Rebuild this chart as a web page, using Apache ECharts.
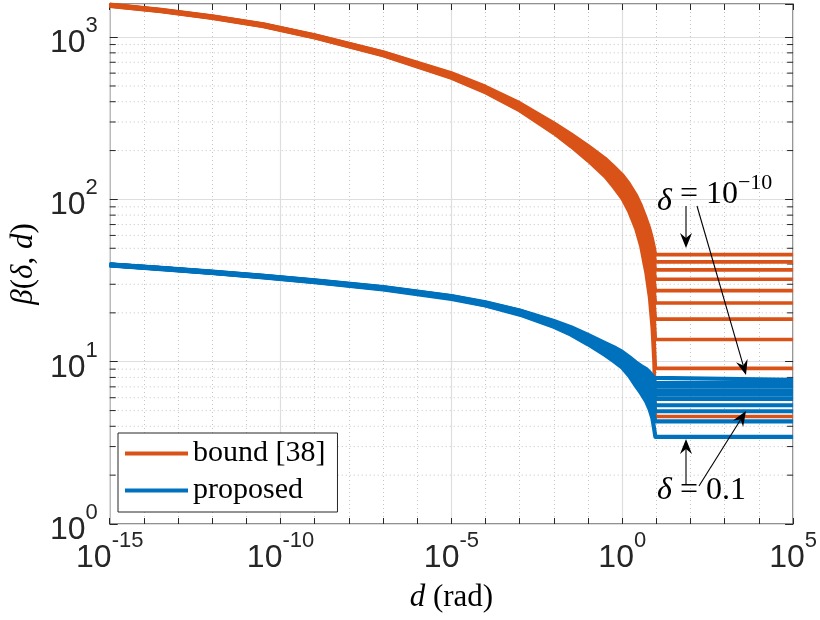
<!DOCTYPE html>
<html>
<head>
<meta charset="utf-8">
<script src="https://cdn.jsdelivr.net/npm/echarts@6/dist/echarts.min.js"></script>
<style>
html, body { margin: 0; padding: 0; background: #fff; }
#chart { width: 820px; height: 620px; }
</style>
</head>
<body>
<div id="chart"></div>
<script>
const dValues = [1e-15, 3.16e-14, 1e-12, 3.16e-11, 1e-9, 1e-7, 1e-5, 1e-4, 1e-3, 1e-2, 0.0316, 0.1,
    0.316, 0.562, 1, 1.585, 2.512, 3.548, 5.012, 6.310, 7.586, 8.511, 9.333, 1e5];

// bound [38], one curve per delta = 1e-10 ... 1e-1
const boundDm10 = [1594, 1480, 1348, 1205, 1032, 811, 601, 496, 393, 296, 253, 214, 179, 160, 142, 125, 107, 92, 76, 66, 57, 51, 45.7, 45.7];
const boundDm9  = [1589, 1475, 1343, 1200, 1027, 806, 596, 491, 388, 291, 248, 209, 174, 155, 137, 120, 102, 87, 71, 61, 52, 46, 41.2, 41.2];
const boundDm8  = [1585, 1471, 1339, 1196, 1023, 802, 592, 487, 384, 287, 244, 205, 170, 151, 133, 116, 98, 83, 67, 57, 48, 42, 36.8, 36.8];
const boundDm7  = [1580, 1466, 1334, 1191, 1018, 797, 587, 482, 379, 282, 239, 200, 165, 146, 128, 111, 93, 78, 62, 52, 43, 37, 32.2, 32.2];
const boundDm6  = [1575, 1461, 1329, 1186, 1013, 792, 582, 477, 374, 277, 234, 195, 160, 141, 123, 106, 88, 73, 57, 47, 38, 32, 27.4, 27.4];
const boundDm5  = [1571, 1457, 1325, 1182, 1009, 788, 578, 473, 370, 273, 230, 191, 156, 137, 119, 102, 84, 69, 53, 43, 34, 28, 23.0, 23.0];
const boundDm4  = [1566, 1452, 1320, 1177, 1004, 783, 573, 468, 365, 268, 225, 186, 151, 132, 114, 97, 79, 64, 48, 38, 29, 23, 18.3, 18.3];
const boundDm3  = [1562, 1448, 1316, 1173, 1000, 779, 569, 464, 361, 264, 221, 182, 147, 128, 110, 93, 75, 60, 44, 34, 25, 19, 13.7, 13.7];
const boundDm2  = [1557, 1443, 1311, 1168, 995, 774, 564, 459, 356, 259, 216, 177, 142, 123, 105, 88, 70, 55, 39, 29, 20, 14, 9.1, 9.1];
const boundDm1  = [1553, 1439, 1307, 1164, 991, 770, 560, 455, 352, 255, 212, 173, 138, 119, 101, 84, 66, 51, 35, 25, 16, 10, 4.6, 4.6];

// proposed, one curve per delta = 1e-10 ... 1e-1
const propDm10 = [39.8, 37.9, 35.9, 33.8, 31.7, 28.8, 25.4, 23.2, 20.7, 17.8, 16.3, 14.6, 13.0, 12.3, 11.5, 10.7, 9.9, 9.4, 9.0, 8.6, 8.2, 7.96, 7.74, 7.74];
const propDm9  = [39.7, 37.8, 35.8, 33.8, 31.6, 28.7, 25.3, 23.1, 20.6, 17.6, 16.1, 14.4, 12.8, 12.1, 11.3, 10.5, 9.6, 9.1, 8.7, 8.3, 7.9, 7.60, 7.37, 7.37];
const propDm8  = [39.7, 37.7, 35.7, 33.7, 31.5, 28.6, 25.2, 23.0, 20.5, 17.5, 15.9, 14.2, 12.6, 11.8, 11.1, 10.2, 9.3, 8.8, 8.4, 7.9, 7.6, 7.25, 7.01, 7.01];
const propDm7  = [39.6, 37.7, 35.6, 33.6, 31.5, 28.5, 25.1, 22.9, 20.3, 17.3, 15.8, 14.0, 12.4, 11.6, 10.8, 9.9, 9.0, 8.5, 8.1, 7.6, 7.2, 6.88, 6.62, 6.62];
const propDm6  = [39.6, 37.6, 35.6, 33.5, 31.4, 28.4, 25.0, 22.8, 20.2, 17.2, 15.6, 13.9, 12.2, 11.4, 10.6, 9.7, 8.8, 8.3, 7.8, 7.3, 6.9, 6.53, 6.26, 6.26];
const propDm5  = [39.5, 37.6, 35.5, 33.5, 31.3, 28.4, 24.9, 22.7, 20.1, 17.1, 15.5, 13.7, 12.0, 11.2, 10.4, 9.5, 8.5, 8.0, 7.5, 7.0, 6.6, 6.20, 5.91, 5.91];
const propDm4  = [39.4, 37.5, 35.4, 33.4, 31.2, 28.3, 24.8, 22.6, 20.0, 16.9, 15.3, 13.5, 11.8, 11.0, 10.1, 9.2, 8.2, 7.6, 7.1, 6.6, 6.1, 5.71, 5.39, 5.39];
const propDm3  = [39.4, 37.4, 35.4, 33.3, 31.1, 28.2, 24.7, 22.5, 19.8, 16.8, 15.2, 13.3, 11.6, 10.8, 9.9, 8.9, 7.9, 7.3, 6.8, 6.2, 5.7, 5.29, 4.95, 4.95];
const propDm2  = [39.3, 37.3, 35.3, 33.2, 31.0, 28.1, 24.6, 22.3, 19.7, 16.6, 15.0, 13.1, 11.3, 10.5, 9.6, 8.6, 7.5, 6.9, 6.3, 5.7, 5.1, 4.68, 4.29, 4.29];
const propDm1  = [39.2, 37.2, 35.2, 33.1, 30.9, 27.9, 24.4, 22.2, 19.5, 16.4, 14.7, 12.8, 11.0, 10.1, 9.2, 8.2, 7.1, 6.4, 5.7, 5.1, 4.5, 3.91, 3.44, 3.44];

// minor y grid values (2..9 per decade)
const minorY = [2, 3, 4, 5, 6, 7, 8, 9, 20, 30, 40, 50, 60, 70, 80, 90, 200, 300, 400, 500, 600, 700, 800, 900];

const boundCurves = [boundDm10, boundDm9, boundDm8, boundDm7, boundDm6, boundDm5, boundDm4, boundDm3, boundDm2, boundDm1];
const propCurves = [propDm10, propDm9, propDm8, propDm7, propDm6, propDm5, propDm4, propDm3, propDm2, propDm1];

const ORANGE = '#D95319';
const BLUE = '#0072BD';
const AXIS = '#262626';
const SANS = 'Liberation Sans';
const SERIF = 'Liberation Serif';

const chart = echarts.init(document.getElementById('chart'));

function powLabel(v) {
    const l = Math.log10(v);
    const e = Math.round(l);
    if (Math.abs(l - e) > 1e-6) return '';
    return e;
}
const tickRich = {
    b: {fontSize: 32, fontFamily: SANS, color: AXIS, lineHeight: 30, verticalAlign: 'bottom'},
    s: {fontSize: 22, fontFamily: SANS, color: AXIS, lineHeight: 44, verticalAlign: 'top'}
};

function curveSeries(vals, name, color, width) {
    return {
        type: 'line',
        name: name,
        data: vals.map((v, i) => [dValues[i], v]),
        showSymbol: false,
        symbol: 'none',
        lineStyle: {color: color, width: width, join: 'round'},
        itemStyle: {color: color},
        emphasis: {disabled: true},
        animation: false,
        z: 3
    };
}

const series = [];
// minor grid lines and ticks on the log y axis
series.push({
    type: 'custom',
    silent: true,
    z: 1,
    data: minorY.map(v => [1, v]),
    renderItem: function (params, api) {
        const v = api.value(1);
        const p0 = api.coord([1e-15, v]);
        const p1 = api.coord([1e5, v]);
        return {
            type: 'group',
            children: [
                {type: 'line', shape: {x1: p0[0], y1: p0[1], x2: p1[0], y2: p1[1]},
                    style: {stroke: '#c4c4c4', lineWidth: 1, lineDash: [1, 3]}},
                {type: 'line', shape: {x1: p0[0], y1: p0[1], x2: p0[0] + 6, y2: p0[1]},
                    style: {stroke: AXIS, lineWidth: 1}},
                {type: 'line', shape: {x1: p1[0] - 6, y1: p1[1], x2: p1[0], y2: p1[1]},
                    style: {stroke: AXIS, lineWidth: 1}}
            ]
        };
    }
});
boundCurves.forEach(c => series.push(curveSeries(c, 'bound [38]', ORANGE, 3.6)));
propCurves.forEach(c => series.push(curveSeries(c, 'proposed', BLUE, 4.2)));

// annotation arrows
function arrow(x1, y1, x2, y2) {
    const dx = x2 - x1, dy = y2 - y1;
    const len = Math.sqrt(dx * dx + dy * dy);
    const ux = dx / len, uy = dy / len;
    const L = 15, W = 6, N = 10;
    const bx = x2 - ux * L, by = y2 - uy * L;
    const nx = x2 - ux * N, ny = y2 - uy * N;
    return [
        {type: 'line', shape: {x1: x1, y1: y1, x2: nx, y2: ny}, style: {stroke: '#000', lineWidth: 1.1}, z: 10},
        {type: 'polygon', shape: {points: [[x2, y2], [bx - uy * W, by + ux * W], [nx, ny], [bx + uy * W, by - ux * W]]},
            style: {fill: '#000'}, z: 10}
    ];
}

const option = {
    animation: false,
    backgroundColor: '#fff',
    grid: {left: 102, right: 26, top: 4, bottom: 96, show: true, borderColor: AXIS, borderWidth: 1.2},
    legend: {
        data: ['bound [38]', 'proposed'],
        left: 118, top: 433,
        orient: 'vertical',
        icon: 'rect',
        itemWidth: 63, itemHeight: 4,
        itemGap: 6,
        padding: [5, 12, 6, 7],
        backgroundColor: '#fff',
        borderColor: AXIS, borderWidth: 1,
        textStyle: {fontFamily: SERIF, fontSize: 30, color: '#000', lineHeight: 31},
        selectedMode: false
    },
    xAxis: [
        {
            type: 'log', logBase: 10, min: 1e-15, max: 1e5, interval: 1,
            position: 'bottom',
            axisLine: {show: false},
            axisTick: {show: true, inside: true, length: 6, lineStyle: {color: AXIS}},
            axisLabel: {
                margin: 6,
                alignMinLabel: 'center', alignMaxLabel: 'center',
                formatter: v => { const e = powLabel(v); return (e === '' || e % 5 !== 0) ? '' : '{b|10}{s|' + e + '}'; },
                rich: tickRich
            },
            splitLine: {show: true, lineStyle: {color: '#c4c4c4', type: [1, 3], width: 1}},
            name: '{i|d} (rad)',
            nameLocation: 'middle', nameGap: 58,
            nameTextStyle: {fontFamily: SERIF, fontSize: 31, color: '#000', rich: {i: {fontFamily: SERIF, fontStyle: 'italic', fontSize: 31}}}
        },
        {
            type: 'log', logBase: 10, min: 1e-15, max: 1e5, interval: 1,
            position: 'top',
            axisLine: {show: false},
            axisTick: {show: true, inside: true, length: 6, lineStyle: {color: AXIS}},
            axisLabel: {show: false},
            splitLine: {show: false}
        },
        {
            type: 'log', logBase: 10, min: 1e-15, max: 1e5, interval: 5,
            position: 'bottom',
            axisLine: {show: false}, axisTick: {show: false}, axisLabel: {show: false},
            splitLine: {show: true, lineStyle: {color: '#dedede', width: 1.2}}
        }
    ],
    yAxis: [
        {
            type: 'log', logBase: 10, min: 1, max: 1600, interval: 1,
            position: 'left',
            axisLine: {show: false},
            axisTick: {show: true, inside: true, length: 8, lineStyle: {color: AXIS}},
            axisLabel: {
                margin: 12,
                formatter: v => { const e = powLabel(v); return e === '' ? '' : '{b|10}{s|' + e + '}'; },
                rich: tickRich
            },
            splitLine: {show: true, lineStyle: {color: '#dedede', width: 1.2}},
            name: '{i|β}({i|δ}, {i|d})',
            nameLocation: 'middle', nameGap: 66, nameRotate: 90,
            nameTextStyle: {fontFamily: SERIF, fontSize: 31, color: '#000', rich: {i: {fontFamily: SERIF, fontStyle: 'italic', fontSize: 31}}}
        },
        {
            type: 'log', logBase: 10, min: 1, max: 1600, interval: 1,
            position: 'right',
            axisLine: {show: false},
            axisTick: {show: true, inside: true, length: 8, lineStyle: {color: AXIS}},
            axisLabel: {show: false},
            splitLine: {show: false}
        }
    ],
    series: series,
    graphic: [
        {type: 'text', left: 657, top: 172, z: 10,
            style: {text: '{i|δ} = 10{s|−10}', fill: '#000', font: '32px ' + SERIF,
                rich: {i: {fontStyle: 'italic', fontSize: 32, fontFamily: SERIF, lineHeight: 32, verticalAlign: 'bottom'},
                       s: {fontSize: 22, fontFamily: SERIF, lineHeight: 46, verticalAlign: 'top'}}}},
        {type: 'text', left: 657, top: 475, z: 10,
            style: {text: '{i|δ} = 0.1', fill: '#000', font: '32px ' + SERIF,
                rich: {i: {fontStyle: 'italic', fontSize: 32, fontFamily: SERIF}}}}
    ]
        .concat(arrow(686, 206, 686, 248))
        .concat(arrow(697, 206, 746, 375))
        .concat(arrow(686, 484, 686, 439))
        .concat(arrow(699, 486, 746, 411))
};

chart.setOption(option);
</script>
</body>
</html>
